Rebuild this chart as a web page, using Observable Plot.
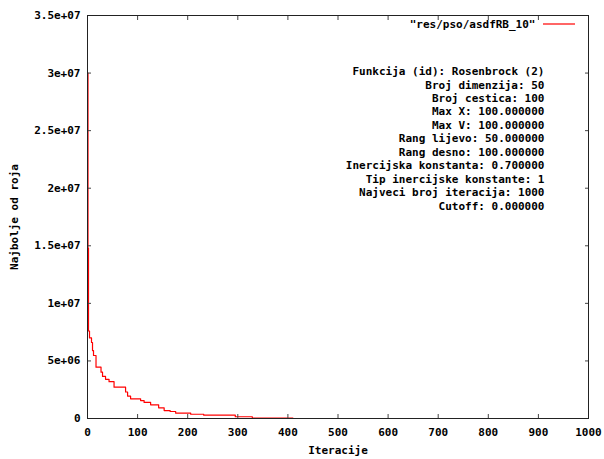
<!DOCTYPE html>
<html>
<head>
<meta charset="utf-8">
<script src="https://cdn.jsdelivr.net/npm/d3@7"></script>
<script src="https://cdn.jsdelivr.net/npm/@observablehq/plot@0.6"></script>
<style>
  html, body { margin: 0; padding: 0; background: #fff; }
</style>
</head>
<body>
<div id="chart"></div>
<script>
// Data (iteration -> best value of the swarm)
const iterations = [0, 1, 2, 4, 8, 10, 12, 17, 27, 30, 36, 43, 53, 76, 80, 86, 106, 113, 126, 142, 153, 165, 176, 206, 232, 295, 329, 410];
const bestValues = [3.0e7, 1.48e7, 7.6e6, 7.0e6, 6.6e6, 5.9e6, 5.47e6, 4.46e6, 4.02e6, 3.65e6, 3.4e6, 3.2e6, 2.72e6, 2.3e6, 1.95e6, 1.71e6, 1.56e6, 1.4e6, 1.19e6, 0.93e6, 0.69e6, 0.61e6, 0.46e6, 0.37e6, 0.29e6, 0.15e6, 0.03e6, 0.02e6];

const xTicks = [0, 100, 200, 300, 400, 500, 600, 700, 800, 900, 1000];
const yTicks = [0, 5e6, 1e7, 1.5e7, 2e7, 2.5e7, 3e7, 3.5e7];
const yTickLabels = ["0", "5e+06", "1e+07", "1.5e+07", "2e+07", "2.5e+07", "3e+07", "3.5e+07"];

const seriesName = "\"res/pso/asdfRB_10\"";
const xLabel = "Iteracije";
const yLabel = "Najbolje od roja";
const infoLines = [
  "Funkcija (id): Rosenbrock (2)",
  "Broj dimenzija: 50",
  "Broj cestica: 100",
  "Max X: 100.000000",
  "Max V: 100.000000",
  "Rang lijevo: 50.000000",
  "Rang desno: 100.000000",
  "Inercijska konstanta: 0.700000",
  "Tip inercijske konstante: 1",
  "Najveci broj iteracija: 1000",
  "Cutoff: 0.000000"
];

const data = iterations.map((it, i) => ({it, v: bestValues[i]}));

const W = 604, H = 459;
const mL = 87, mR = 16, mT = 15, mB = 41;

const chart = Plot.plot({
  width: W,
  height: H,
  marginLeft: mL,
  marginRight: mR,
  marginTop: mT,
  marginBottom: mB,
  style: {fontFamily: "'DejaVu Sans Mono', monospace", fontWeight: "bold", fontSize: "11px", background: "#fff", color: "#000"},
  x: {domain: [0, 1000]},
  y: {domain: [0, 3.5e7]},
  marks: [
    Plot.line(data, {x: "it", y: "v", curve: "step-after", stroke: "#ff0000", strokeWidth: 1.2}),
    Plot.axisX({ticks: xTicks, tickSize: -4, tickPadding: 14, tickFormat: d => String(d), label: null, stroke: "#444"}),
    Plot.axisX({anchor: "top", ticks: xTicks, tickSize: -4, tickFormat: () => "", label: null, stroke: "#444"}),
    Plot.axisY({ticks: yTicks, tickSize: -4, tickPadding: 11, tickFormat: d => yTickLabels[yTicks.indexOf(d)], label: null, stroke: "#444"}),
    Plot.axisY({anchor: "right", ticks: yTicks, tickSize: -4, tickFormat: () => "", label: null, stroke: "#444"}),
    Plot.frame({stroke: "#222"}),
    Plot.text([xLabel], {frameAnchor: "bottom", dy: 32, lineAnchor: "middle", text: d => d, fill: "#000"}),
    Plot.text([yLabel], {frameAnchor: "left", dx: -73, rotate: -90, textAnchor: "middle", lineAnchor: "middle", text: d => d, fill: "#000"}),
    Plot.text([seriesName], {frameAnchor: "top-right", dx: -53, dy: 9, textAnchor: "end", lineAnchor: "middle", text: d => d, fill: "#000"}),
    Plot.text([infoLines.join("\n")], {frameAnchor: "top-right", dx: -44, dy: 50, textAnchor: "end", lineAnchor: "top", lineHeight: 1.225, text: d => d, fill: "#000"})
  ]
});

// legend sample line
d3.select(chart).append("line")
  .attr("x1", W - mR - 45).attr("x2", W - mR - 13)
  .attr("y1", mT + 9).attr("y2", mT + 9)
  .attr("stroke", "#ff0000").attr("stroke-width", 1.2);

document.getElementById("chart").appendChild(chart);
</script>
</body>
</html>
